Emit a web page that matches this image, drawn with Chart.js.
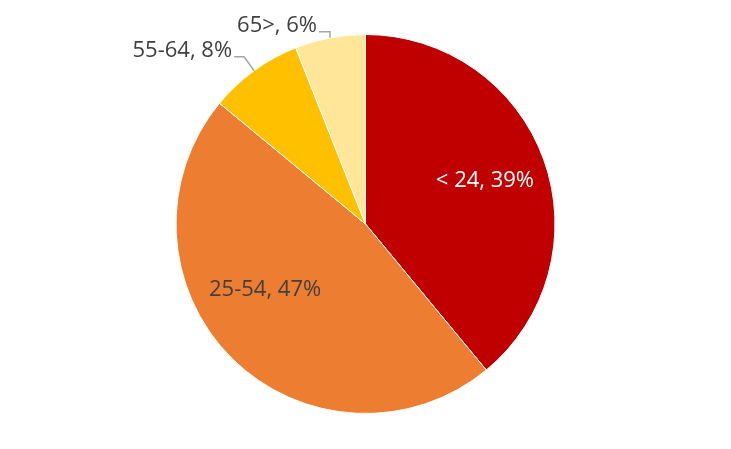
<!DOCTYPE html>
<html>
<head>
<meta charset="utf-8">
<script src="https://cdn.jsdelivr.net/npm/chart.js@4.4.1/dist/chart.umd.min.js"></script>
<style>
  html, body { margin: 0; padding: 0; background: #fff; }
  #wrap { width: 731px; height: 449px; }
</style>
</head>
<body>
<div id="wrap"><canvas id="pie"></canvas></div>
<script>
var categories = ['< 24', '25-54', '55-64', '65>'];
var shares = [39, 47, 8, 6];
var sliceColors = ['#C00000', '#ED7D31', '#FFC000', '#FFE699'];
var labelColors = ['#ffffff', '#404040', '#404040', '#404040'];

// how each label sits: inside at a fraction of the radius, or outside with a leader line
var labelStyle = [
    {inside: true, frac: 0.67, dx: 0, dy: 0},
    {inside: true, frac: 0.63, dx: -16, dy: -19},
    {inside: false, elbowX: -10, elbowY: -14, run: 10},
    {inside: false, elbowX: 0, elbowY: -6, run: 11}
];

var labelPlugin = {
    id: 'sliceLabels',
    afterDatasetsDraw: function (chart) {
        var ctx = chart.ctx;
        var arcs = chart.getDatasetMeta(0).data;
        ctx.save();
        ctx.font = '22px "Open Sans", "Noto Sans", sans-serif';
        ctx.textBaseline = 'middle';
        arcs.forEach(function (arc, i) {
            var p = arc.getProps(['x', 'y', 'startAngle', 'endAngle', 'outerRadius'], true);
            var mid = (p.startAngle + p.endAngle) / 2;
            var text = categories[i] + ', ' + shares[i] + '%';
            var s = labelStyle[i];
            ctx.fillStyle = labelColors[i];
            if (s.inside) {
                var r = p.outerRadius * s.frac;
                ctx.textAlign = 'center';
                ctx.fillText(text, p.x + Math.cos(mid) * r + s.dx, p.y + Math.sin(mid) * r + s.dy);
            } else {
                var ex = p.x + Math.cos(mid) * p.outerRadius;
                var ey = p.y + Math.sin(mid) * p.outerRadius;
                var bx = ex + s.elbowX;
                var by = ey + s.elbowY;
                var tx = bx - s.run;
                ctx.strokeStyle = '#a6a6a6';
                ctx.lineWidth = 1.5;
                ctx.beginPath();
                ctx.moveTo(ex, ey);
                ctx.lineTo(bx, by);
                ctx.lineTo(tx, by);
                ctx.stroke();
                ctx.textAlign = 'right';
                ctx.fillText(text, tx - 2, by - 6);
            }
        });
        ctx.restore();
    }
};

new Chart(document.getElementById('pie'), {
    type: 'pie',
    data: {
        labels: categories,
        datasets: [{
            data: shares,
            backgroundColor: sliceColors,
            borderColor: '#ffffff',
            borderWidth: 1
        }]
    },
    options: {
        responsive: true,
        maintainAspectRatio: false,
        animation: false,
        layout: {padding: {top: 34, bottom: 35, left: 0, right: 0}},
        plugins: {
            legend: {display: false},
            tooltip: {enabled: false}
        }
    },
    plugins: [labelPlugin]
});
</script>
</body>
</html>
